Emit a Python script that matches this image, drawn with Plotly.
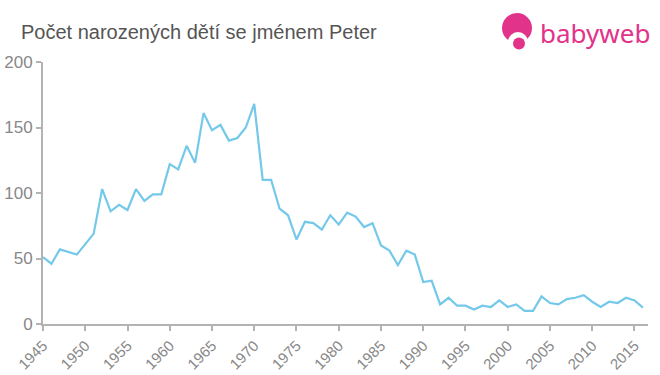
import plotly.graph_objects as go

years = list(range(1945, 2017))
births = [51, 46, 57, 55, 53, 61, 69, 103, 86, 91,
          87, 103, 94, 99, 99, 122, 118, 136, 123, 161,
          148, 152, 140, 142, 150, 168, 110, 110, 88, 83,
          64.5, 78, 77, 72, 83, 76, 85, 82, 74, 77,
          60, 56, 45, 56, 53, 32, 33, 15, 20, 14,
          14, 11, 14, 13, 18, 13, 15, 10, 10, 21,
          16, 15, 19, 20, 22, 17, 13, 17, 16, 20,
          18, 12.5]
x_ticks = list(range(1945, 2016, 5))
y_ticks = [0, 50, 100, 150, 200]
title_text = "Počet narozených dětí se jménem Peter"

W, H = 660, 375
# plot area in window pixels
PL, PR, PT, PB = 43, 648, 62, 324
L, R, T, B = PL, W - PR, PT, H - PB
PW, PH = PR - PL, PB - PT

fig = go.Figure()
fig.add_trace(go.Scatter(x=years, y=births, mode="lines",
                         line=dict(color="#74c9ea", width=2.2),
                         hoverinfo="x+y"))

axis_gray = "#b3b3b3"
fig.update_layout(
    width=W, height=H,
    margin=dict(l=L, r=R, t=T, b=B, autoexpand=False),
    paper_bgcolor="white", plot_bgcolor="white",
    showlegend=False,
    font=dict(family="Liberation Sans, Arial, sans-serif", color="#888888"),
    xaxis=dict(range=[1945, 2016.6], tickmode="array", tickvals=x_ticks,
               ticktext=[str(t) for t in x_ticks], tickangle=-45,
               automargin=False,
               showgrid=False, zeroline=False, showline=True,
               linecolor=axis_gray, linewidth=2, ticks="outside",
               tickcolor=axis_gray, tickwidth=2, ticklen=5,
               tickfont=dict(size=15, color="#888888")),
    yaxis=dict(range=[0, 200], tickmode="array", tickvals=y_ticks,
               automargin=False,
               showgrid=False, zeroline=False, showline=True,
               linecolor=axis_gray, linewidth=2, ticks="outside",
               tickcolor=axis_gray, tickwidth=2, ticklen=5,
               tickfont=dict(size=17, color="#888888")),
)

def px(x):
    return (x - PL) / PW

def py(y):
    return (PB - y) / PH

fig.add_annotation(text=title_text, xref="paper", yref="paper",
                   x=px(19), y=py(32), xanchor="left", yanchor="middle",
                   showarrow=False,
                   font=dict(size=20, color="#555555",
                             family="Liberation Sans, Arial, sans-serif"))

pink = "#e2338a"
# logo icon: head, face, mouth
fig.add_shape(type="circle", xref="paper", yref="paper",
              x0=px(502), x1=px(532), y0=py(43), y1=py(13),
              fillcolor=pink, line=dict(width=0), layer="above")
fig.add_shape(type="circle", xref="paper", yref="paper",
              x0=px(508), x1=px(528), y0=py(52), y1=py(32),
              fillcolor="white", line=dict(width=0), layer="above")
fig.add_shape(type="circle", xref="paper", yref="paper",
              x0=px(513), x1=px(525), y0=py(49.5), y1=py(37.5),
              fillcolor=pink, line=dict(width=0), layer="above")
fig.add_annotation(text="babyweb", xref="paper", yref="paper",
                   x=px(538), y=py(33),
                   xanchor="left", yanchor="middle", showarrow=False,
                   font=dict(size=26, color=pink,
                             family="Noto Sans, Arial, sans-serif"))

# remove the default page margin so the figure fills the window exactly
fig.write_html("out.html",
               config={"displayModeBar": False},
               post_script="document.body.style.margin='0';")
